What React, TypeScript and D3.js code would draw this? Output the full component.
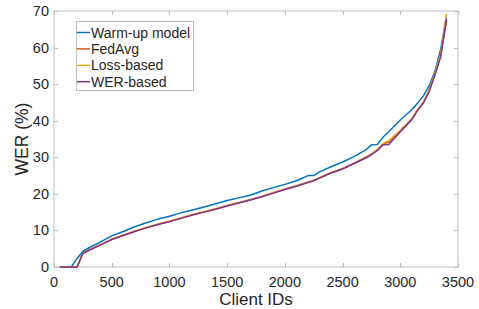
import { useEffect, useRef } from 'react'
import * as d3 from 'd3'

// client IDs shared by every curve
const clientIds = [50, 150, 200, 250, 300, 400, 500, 600, 700, 800, 900, 1000, 1100, 1200, 1300, 1400, 1500, 1600, 1700, 1800, 1900, 2000, 2100, 2200, 2250, 2300, 2400, 2500, 2600, 2700, 2750, 2800, 2850, 2900, 3000, 3100, 3150, 3200, 3250, 3300, 3350, 3400]

const warmUp = [0, 0, 2.3, 4.3, 5.2, 6.8, 8.5, 9.7, 11.0, 12.1, 13.1, 13.9, 14.8, 15.6, 16.4, 17.3, 18.2, 18.9, 19.6, 20.8, 21.7, 22.6, 23.6, 25.0, 25.0, 26.0, 27.4, 28.7, 30.2, 32.0, 33.4, 33.5, 35.5, 37.0, 40.2, 43.0, 44.8, 46.8, 49.5, 53.5, 59.5, 68.5]
const fedAvg = [0, 0, 0, 3.8, 4.6, 6.1, 7.6, 8.7, 9.8, 10.8, 11.7, 12.5, 13.4, 14.3, 15.1, 15.9, 16.8, 17.6, 18.4, 19.3, 20.3, 21.3, 22.2, 23.2, 23.7, 24.4, 25.8, 26.9, 28.4, 30.0, 30.9, 32.0, 33.6, 34.2, 37.3, 40.5, 43.0, 45.0, 48.3, 52.8, 57.8, 67.3]
const lossBased = [0, 0, 0, 3.8, 4.6, 6.1, 7.6, 8.7, 9.8, 10.8, 11.7, 12.5, 13.4, 14.3, 15.1, 15.9, 16.8, 17.6, 18.4, 19.3, 20.3, 21.3, 22.2, 23.2, 23.7, 24.4, 25.8, 26.9, 28.4, 29.9, 30.9, 32.2, 33.8, 34.6, 37.4, 40.6, 43.0, 45.1, 48.4, 53.0, 58.2, 69.2]
const werBased = [0, 0, 0, 3.7, 4.5, 6.0, 7.5, 8.6, 9.7, 10.7, 11.6, 12.4, 13.3, 14.2, 15.0, 15.8, 16.7, 17.5, 18.3, 19.2, 20.2, 21.2, 22.1, 23.1, 23.6, 24.3, 25.7, 26.8, 28.3, 29.8, 30.7, 31.8, 33.4, 33.5, 37.0, 40.3, 42.8, 44.8, 48.0, 52.5, 57.5, 67.8]

const seriesNames = ['Warm-up model', 'FedAvg', 'Loss-based', 'WER-based']
const seriesColors = ['#0072BD', '#D95319', '#EDB120', '#7E2F8E']
const seriesValues = [warmUp, fedAvg, lossBased, werBased]

const xTicks = [0, 500, 1000, 1500, 2000, 2500, 3000, 3500]
const yTicks = [0, 10, 20, 30, 40, 50, 60, 70]

export default function App() {
  const ref = useRef<SVGSVGElement>(null)

  useEffect(() => {
    if (!ref.current) return
    const width = 479
    const height = 309
    const m = { left: 54, right: 21, top: 11, bottom: 42 }
    const font = 'Helvetica, "Liberation Sans", Arial, sans-serif'
    const axisColor = '#bdbdbd'
    const textColor = '#262626'

    const svg = d3.select(ref.current)
    svg.selectAll('*').remove()

    const x = d3.scaleLinear().domain([0, 3500]).range([m.left, width - m.right])
    const y = d3.scaleLinear().domain([0, 70]).range([height - m.bottom, m.top])

    const [x0, x1] = x.range()
    const [y0, y1] = y.range()

    // box
    svg.append('rect')
      .attr('x', x0).attr('y', y1)
      .attr('width', x1 - x0).attr('height', y0 - y1)
      .attr('fill', 'white')
      .attr('stroke', axisColor)
      .attr('stroke-width', 1)

    const tickLen = 4
    // ticks on all four sides, pointing in
    xTicks.forEach(t => {
      const px = Math.round(x(t)) + 0.5
      svg.append('line').attr('x1', px).attr('x2', px).attr('y1', y0).attr('y2', y0 - tickLen).attr('stroke', axisColor)
      svg.append('line').attr('x1', px).attr('x2', px).attr('y1', y1).attr('y2', y1 + tickLen).attr('stroke', axisColor)
      svg.append('text')
        .attr('x', x(t)).attr('y', y0 + 20)
        .attr('text-anchor', 'middle')
        .style('font-family', font).style('font-size', '14.5px').style('fill', textColor)
        .text(t)
    })
    yTicks.forEach(t => {
      const py = Math.round(y(t)) + 0.5
      svg.append('line').attr('x1', x0).attr('x2', x0 + tickLen).attr('y1', py).attr('y2', py).attr('stroke', axisColor)
      svg.append('line').attr('x1', x1).attr('x2', x1 - tickLen).attr('y1', py).attr('y2', py).attr('stroke', axisColor)
      svg.append('text')
        .attr('x', x0 - 5).attr('y', y(t) + 5)
        .attr('text-anchor', 'end')
        .style('font-family', font).style('font-size', '14.5px').style('fill', textColor)
        .text(t)
    })

    // axis labels
    svg.append('text')
      .attr('x', (x0 + x1) / 2).attr('y', 305)
      .attr('text-anchor', 'middle')
      .style('font-family', font).style('font-size', '17px').style('fill', textColor)
      .text('Client IDs')
    svg.append('text')
      .attr('transform', `translate(28,${(y0 + y1) / 2}) rotate(-90)`)
      .attr('text-anchor', 'middle')
      .style('font-family', font).style('font-size', '17.5px').style('fill', textColor)
      .text('WER (%)')

    // lines
    const line = d3.line<number>()
      .x((_, i) => x(clientIds[i]))
      .y(d => y(d))

    seriesValues.forEach((vals, i) => {
      svg.append('path')
        .attr('d', line(vals))
        .attr('fill', 'none')
        .attr('stroke', seriesColors[i])
        .attr('stroke-width', 1.5)
        .attr('stroke-linejoin', 'round')
    })

    // legend
    const lg = svg.append('g')
    lg.append('rect')
      .attr('x', 76.5).attr('y', 21.5)
      .attr('width', 117).attr('height', 69)
      .attr('fill', 'white')
      .attr('stroke', axisColor)
    seriesNames.forEach((name, i) => {
      const ly = 32.5 + i * 16.4
      lg.append('line')
        .attr('x1', 77).attr('x2', 90)
        .attr('y1', ly).attr('y2', ly)
        .attr('stroke', seriesColors[i]).attr('stroke-width', 1.5)
      lg.append('text')
        .attr('x', 91).attr('y', ly + 5)
        .style('font-family', font).style('font-size', '14px').style('fill', textColor)
        .text(name)
    })
  }, [])

  return (
    <svg
      ref={ref}
      width={479}
      height={309}
      style={{ position: 'absolute', left: 0, top: 0, background: 'white' }}
    />
  )
}
